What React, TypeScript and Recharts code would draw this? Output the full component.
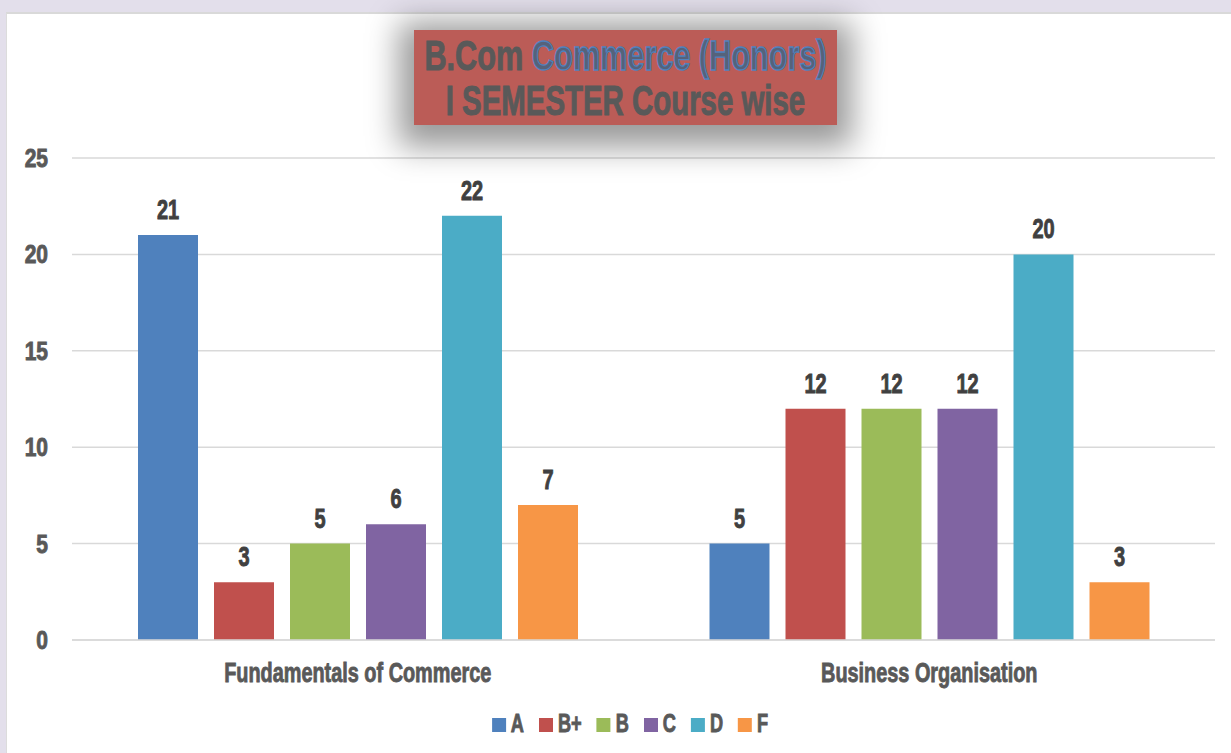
import React from "react";
import { BarChart, Bar, XAxis, YAxis, CartesianGrid, LabelList } from "recharts";

const categories = ["Fundamentals of Commerce", "Business Organisation"];
const gradeA = [21, 5];
const gradeBPlus = [3, 12];
const gradeB = [5, 12];
const gradeC = [6, 12];
const gradeD = [22, 20];
const gradeF = [7, 3];
const yTicks = [0, 5, 10, 15, 20, 25];
const seriesNames = ["A", "B+", "B", "C", "D", "F"];
const seriesColors = ["#4f81bd", "#c0504d", "#9bbb59", "#8064a2", "#4bacc6", "#f79646"];
const titleLine1a = "B.Com";
const titleLine1b = "Commerce (Honors)";
const titleLine2 = "I SEMESTER Course wise";

const seriesValues = [gradeA, gradeBPlus, gradeB, gradeC, gradeD, gradeF];
const data = categories.map((c, i) => {
  const row: any = { name: c };
  seriesNames.forEach((s, k) => {
    row[s] = seriesValues[k][i];
  });
  return row;
});

const FONT = "'Liberation Sans', Arial, sans-serif";

function StretchText(props: any) {
  const { x, y, text, size, anchor, color, sx, sy } = props;
  return (
    <g transform={`translate(${x},${y}) scale(${sx},${sy})`}>
      <text x={0} y={0} textAnchor={anchor} fontSize={size} fontWeight="bold" fontFamily={FONT} fill={color} stroke={color} strokeWidth={0.9}>
        {text}
      </text>
    </g>
  );
}

const YTick = (props: any) => {
  const { x, y, payload } = props;
  const size = 25;
  return <StretchText x={x} y={y + 0.358 * size} text={String(payload.value)} size={size} anchor="end" color="#595959" sx={0.84} sy={1} />;
};

const XTick = (props: any) => {
  const { x, y, payload } = props;
  const size = 28;
  return <StretchText x={x} y={y + 0.716 * size} text={payload.value} size={size} anchor="middle" color="#595959" sx={0.71} sy={1} />;
};

const DataLabel = (props: any) => {
  const { x, y, width, value } = props;
  return <StretchText x={x + width / 2} y={y - 16} text={String(value)} size={27} anchor="middle" color="#404040" sx={0.74} sy={1} />;
};

const LSX = 0.7;

export default function App() {
  return (
    <div style={{ position: "absolute", left: 0, top: 0, width: 1231, height: 753, background: "#e3dfeb", overflow: "hidden" }}>
      <div style={{ position: "absolute", left: 6, top: 12, width: 1225, height: 741, background: "#ffffff", borderTop: "2px solid #d9d9d9", borderLeft: "1px solid #dcdcdc" }} />
      <div style={{ position: "absolute", left: 0, top: 0 }}>
        <BarChart width={1231} height={753} data={data} margin={{ top: 158, right: 16, left: 0, bottom: 58 }} barCategoryGap={66} barGap={16}>
          <CartesianGrid vertical={false} stroke="#d9d9d9" strokeWidth={1.5} />
          <XAxis dataKey="name" axisLine={{ stroke: "#d9d9d9", strokeWidth: 1.5 }} tickLine={false} height={55} tickMargin={16} tick={<XTick />} interval={0} />
          <YAxis width={72} domain={[0, 25]} ticks={yTicks} axisLine={false} tickLine={false} tickMargin={18} tick={<YTick />} interval={0} />
          {seriesNames.map((s, k) => (
            <Bar key={s} dataKey={s} fill={seriesColors[k]} isAnimationActive={false}>
              <LabelList dataKey={s} content={<DataLabel />} />
            </Bar>
          ))}
        </BarChart>
      </div>
      <div
        style={{
          position: "absolute",
          left: 414,
          top: 30,
          width: 423,
          height: 95,
          background: "#bb5c57",
          boxShadow: "0 7px 30px 15px rgba(0,0,0,0.4)",
          fontFamily: FONT,
          fontWeight: "bold",
          fontSize: 42,
          color: "#595959",
          textAlign: "center",
          whiteSpace: "nowrap",
        }}
      >
        <div style={{ position: "absolute", left: -200, top: 5, width: 823, lineHeight: "42px", transform: "scale(0.73,1)", transformOrigin: "center", WebkitTextStroke: "1px #595959" }}>
          <span>{titleLine1a} </span>
          <span style={{ color: "#56627a", WebkitTextStroke: "1.4px #4f81bd" }}>{titleLine1b}</span>
        </div>
        <div style={{ position: "absolute", left: -200, top: 50, width: 823, lineHeight: "42px", transform: "scale(0.70,1)", transformOrigin: "center", WebkitTextStroke: "1px #595959" }}>{titleLine2}</div>
      </div>
      <div
        style={{
          position: "absolute",
          left: 0,
          top: 708,
          width: 1260,
          height: 30,
          display: "flex",
          justifyContent: "center",
          alignItems: "center",
          transform: `scale(${LSX},1)`,
          transformOrigin: "630px 15px",
          whiteSpace: "nowrap",
        }}
      >
        {seriesNames.map((s, k) => (
          <div key={s} style={{ display: "flex", alignItems: "center", marginRight: k < seriesNames.length - 1 ? 15 / LSX : 0 }}>
            <div style={{ width: 14 / LSX, height: 14, background: seriesColors[k], marginRight: 5 / LSX, marginTop: 3 }} />
            <span style={{ fontFamily: FONT, fontWeight: "bold", fontSize: 26, color: "#595959", lineHeight: "30px", WebkitTextStroke: "0.9px #595959" }}>{s}</span>
          </div>
        ))}
      </div>
    </div>
  );
}
